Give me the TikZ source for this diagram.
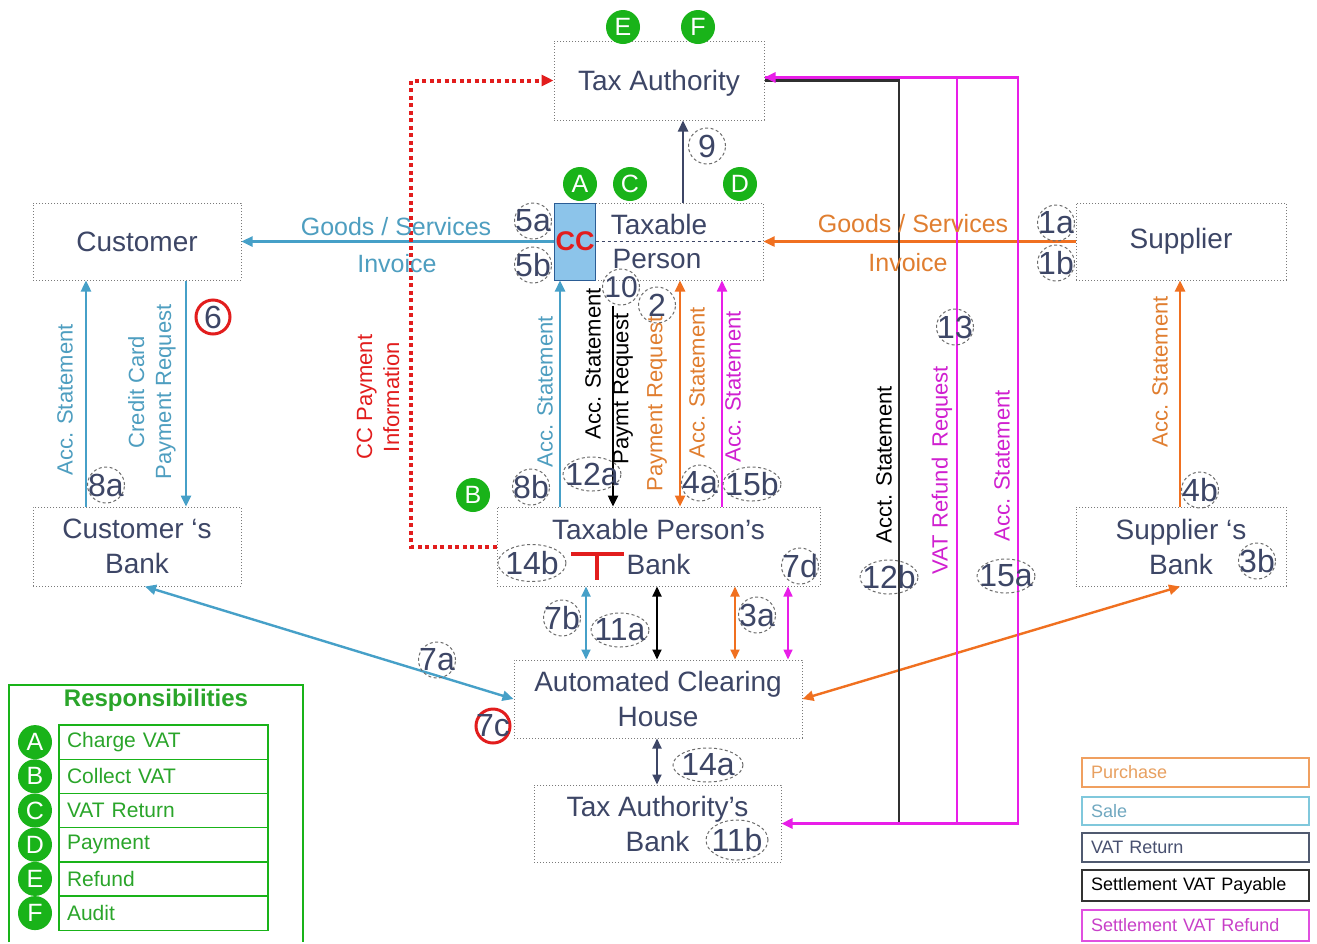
\documentclass[tikz,border=0pt]{standalone}
\usepackage{fontspec}
\setmainfont{Liberation Sans}
\usetikzlibrary{arrows.meta,shapes.geometric}
\definecolor{navy}{HTML}{3D4666}
\definecolor{skyc}{HTML}{46A0C8}
\definecolor{skytext}{HTML}{4E9EC0}
\definecolor{orc}{HTML}{F07020}
\definecolor{ortext}{HTML}{E07E30}
\definecolor{magc}{HTML}{E81EE8}
\definecolor{magtext}{HTML}{D020D0}
\definecolor{myred}{HTML}{E21D1D}
\definecolor{greenc}{HTML}{19B319}
\definecolor{greentext}{HTML}{2AA52A}
\definecolor{ccfill}{HTML}{8CC4EA}
\definecolor{ccdraw}{HTML}{2B5D95}
\definecolor{boxgray}{HTML}{7A7A7A}
\definecolor{blackline}{HTML}{303030}
\definecolor{purdraw}{HTML}{F0A060}
\definecolor{purtext}{HTML}{E8A060}
\definecolor{saledraw}{HTML}{80C8DC}
\definecolor{saletext}{HTML}{70A8C0}
\definecolor{vatdraw}{HTML}{505A70}
\definecolor{vattext}{HTML}{485070}
\definecolor{paydraw}{HTML}{333333}
\definecolor{refdraw}{HTML}{E050E0}
\definecolor{reftext}{HTML}{C840C8}
\begin{document}
\begin{tikzpicture}[x=1pt,y=-1pt,
  box/.style={draw=boxgray, dotted, line width=1pt, inner sep=0pt, align=center, text=navy, font=\fontsize{28}{35}\selectfont},
  txt/.style={inner sep=0pt, text=navy, font=\fontsize{28}{35}\selectfont},
  lab/.style={inner sep=0pt, align=center, rotate=90, font=\fontsize{22}{27}\selectfont},
  hlab/.style={inner sep=0pt, font=\fontsize{25}{25}\selectfont},
  num/.style={ellipse, draw=gray!85!black, dash pattern=on 3pt off 2.5pt, line width=1pt, inner sep=-16pt, minimum width=37pt, minimum height=36pt, text=navy, font=\fontsize{32}{32}\selectfont},
  numw/.style={num, minimum width=58pt, minimum height=34pt},
  redring/.style={circle, draw=myred, line width=3pt, inner sep=-16pt, minimum size=34pt, text=navy, font=\fontsize{32}{32}\selectfont},
  gc/.style={circle, fill=greenc, inner sep=0pt, minimum size=34pt, text=white, font=\fontsize{25}{25}\selectfont},
  arr/.style={line width=2.4pt, -{Triangle[length=11pt,width=10pt]}},
  darr/.style={line width=2.4pt, {Triangle[length=11pt,width=10pt]}-{Triangle[length=11pt,width=10pt]}},
  darrs/.style={line width=2pt, {Triangle[length=10pt,width=9pt]}-{Triangle[length=10pt,width=9pt]}},
  rowbox/.style={draw=greenc, line width=1.4pt, minimum height=34.2pt, text width=193pt, inner xsep=8pt, inner ysep=0pt, align=left, text=greentext, font=\fontsize{21}{21}\selectfont},
  legbox/.style={line width=1.5pt, minimum height=29pt, text width=209pt, inner xsep=9pt, inner ysep=0pt, align=left, font=\fontsize{18}{18}\selectfont}
]
\useasboundingbox (0,0) rectangle (1317,943);
\fill[white] (0,0) rectangle (1317,943);

% column coordinates
\foreach \c in {86,145,186,411,560,586,613,657,680,683,722,735,788,899,957,1018,1180}
  \coordinate (x\c) at (\c,0);

% boxes
\node[box, minimum width=210pt, minimum height=79pt] (ta) at (659,80.5) {};
\node[txt] (tatext) at (659,83) {Tax Authority};
\node[box, minimum width=168pt, minimum height=77pt] (tp) at (679,241.5) {};
\node[draw=ccdraw, fill=ccfill, line width=1pt, minimum width=41pt, minimum height=77pt, inner sep=0pt] (cc) at (574.5,241.5) {};
\node[box, minimum width=208pt, minimum height=77pt] (cust) at (137,241.5) {Customer};
\node[box, minimum width=210pt, minimum height=77pt] (sup) at (1181,241.5) {Supplier};
\node[box, minimum width=208pt, minimum height=79pt] (cb) at (137,546.5) {Customer ‘s\\Bank};
\node[box, minimum width=323pt, minimum height=79pt] (tpb) at (658.5,546.5) {Taxable Person’s\\Bank};
\node[box, minimum width=210pt, minimum height=79pt] (sb) at (1181,546.5) {Supplier ‘s\\Bank};
\node[box, minimum width=288pt, minimum height=78pt] (ach) at (658,699) {Automated Clearing\\House};
\node[box, minimum width=247pt, minimum height=77pt] (tab) at (657.5,823.5) {Tax Authority’s\\Bank};

\draw[navy, dashed, line width=1pt] (cc.east) -- (tp.east);
\node[txt] (tptop) at (659,224) {Taxable};
\node[txt] (tpbot) at (657,259) {Person};
\node[inner sep=0pt, text=myred, font=\fontsize{27}{27}\selectfont\bfseries] (cctext) at (575,241) {CC};

% red T mark
\draw[myred, line width=4.5pt] (571,554) -- (624,554);
\draw[myred, line width=4.5pt] (597,554) -- (597,580);

% number label 10 needed before black arrow
\node[num, font=\fontsize{30}{30}\selectfont] (n10) at (621,287) {10};

% connectors
\draw[arr, skyc] (cc.west) -- (cust.east);
\draw[arr, orc] (sup.west) -- (tp.east);
\draw[arr, navy] (x683 |- tp.north) -- (x683 |- ta.south);
\draw[arr, skyc] (x86 |- cb.north) -- (x86 |- cust.south);
\draw[arr, skyc] (x186 |- cust.south) -- (x186 |- cb.north);
\draw[arr, skyc] (x560 |- tpb.north) -- (x560 |- cc.south);
\draw[arr, black] (x613 |- n10.south) -- (x613 |- tpb.north);
\draw[darr, orc] (x680 |- tp.south) -- (x680 |- tpb.north);
\draw[arr, magc, line width=1.8pt] (x722 |- tpb.north) -- (x722 |- tp.south);
\draw[arr, orc] (x1180 |- sb.north) -- (x1180 |- sup.south);
\draw[darrs, skyc] (x586 |- tpb.south) -- (x586 |- ach.north);
\draw[darrs, black] (x657 |- tpb.south) -- (x657 |- ach.north);
\draw[darrs, orc] (x735 |- tpb.south) -- (x735 |- ach.north);
\draw[darrs, magc, line width=1.6pt] (x788 |- tpb.south) -- (x788 |- ach.north);
\draw[darrs, navy] (x657 |- ach.south) -- (x657 |- tab.north);
\draw[darr, skyc] (x145 |- cb.south) -- (ach.west);
\draw[darr, orc] (x1180 |- sb.south) -- (ach.east);
\draw[myred, line width=4pt, dash pattern=on 4pt off 3.5pt, -{Triangle[length=12pt,width=11pt]}]
  (tpb.west) -- (tpb.west -| x411) -- (x411 |- ta.west) -- (ta.west);
\coordinate (taE) at ([yshift=3pt]ta.east);
\draw[line width=2.2pt, blackline] (ta.east) -- (ta.east -| x899) -- (x899 |- tab.east);
\draw[arr, magc, line width=2.6pt] (x957 |- tab.east) -- (x957 |- taE) -- (taE);
\draw[arr, magc, line width=2.6pt] (taE) -- (taE -| x1018) -- (x1018 |- tab.east) -- (tab.east);

% horizontal labels
\node[hlab, text=skytext] (gs1) at (396,227) {Goods / Services};
\node[hlab, text=skytext] (inv1) at (397,264) {Invoice};
\node[hlab, text=ortext] (gs2) at (913,224) {Goods / Services};
\node[hlab, text=ortext] (inv2) at (908,263) {Invoice};

% rotated labels
\node[lab, text=skytext] (l1) at (65,400) {Acc. Statement};
\node[lab, text=skytext] (l2) at (152,392) {Credit Card\\Payment Request};
\node[lab, text=myred] (l3) at (378,397) {CC Payment\\Information};
\node[lab, text=skytext] (l4) at (545,392) {Acc. Statement};
\node[lab, text=black] (l5) at (593,364) {Acc. Statement};
\node[lab, text=black] (l6) at (623,389) {Paymt Request};
\node[lab, text=ortext] (l7) at (657,404) {Payment Request};
\node[lab, text=ortext] (l8) at (697,383) {Acc. Statement};
\node[lab, text=magtext] (l9) at (733,387) {Acc. Statement};
\node[lab, text=ortext] (l10) at (1160,372) {Acc. Statement};
\node[lab, text=black] (l11) at (884,465) {Acct. Statement};
\node[lab, text=magtext] (l12) at (942,470) {VAT Refund\, Request};
\node[lab, text=magtext] (l13) at (1002,466) {Acc. Statement};

% number labels
\node[num] (n9) at (707,146) {9};
\node[num] (n5a) at (533,221) {5a};
\node[num] (n5b) at (533,265) {5b};
\node[num] (n1a) at (1056,223) {1a};
\node[num] (n1b) at (1056,263) {1b};
\node[redring] (n6) at (213,317) {6};
\node[num] (n2) at (657,305) {2};
\node[num] (n13) at (955,327) {13};
\node[num] (n8a) at (106,485) {8a};
\node[num] (n8b) at (531,487) {8b};
\node[numw] (n12a) at (592,474) {12a};
\node[num] (n4a) at (700,483) {4a};
\node[numw] (n15b) at (752,484) {15b};
\node[num] (n4b) at (1200,490) {4b};
\node[numw, minimum width=68pt, minimum height=37pt] (n14b) at (532,563) {14b};
\node[num] (n7d) at (800,566) {7d};
\node[numw] (n12b) at (889,577) {12b};
\node[numw] (n15a) at (1006,576) {15a};
\node[num] (n3b) at (1257,561) {3b};
\node[num] (n7b) at (562,618) {7b};
\node[numw] (n11a) at (620,630) {11a};
\node[num] (n3a) at (757,615) {3a};
\node[num] (n7a) at (437,660) {7a};
\node[redring] (n7c) at (493,726) {7c};
\node[numw, minimum width=70pt] (n14a) at (708,765) {14a};
\node[numw, minimum width=62pt, minimum height=40pt] (n11b) at (737,840) {11b};

% green responsibility markers
\node[gc] (gE) at (623,27) {E};
\node[gc] (gF) at (698,27) {F};
\node[gc] (gA) at (580,184) {A};
\node[gc] (gC) at (630,184) {C};
\node[gc] (gD) at (740,184) {D};
\node[gc] (gB) at (473,495) {B};

% left legend
\draw[greenc, line width=1.4pt] (9,942) -- (9,685) -- (303,685) -- (303,942);
\node[inner sep=0pt, text=greentext, font=\fontsize{24}{24}\selectfont\bfseries] (resp) at (156,700) {Responsibilities};
\node[rowbox] (r1) at (163.5,742.1) {Charge VAT};
\node[rowbox] (r2) at (163.5,776.3) {Collect VAT};
\node[rowbox] (r3) at (163.5,810.5) {VAT Return};
\node[rowbox] (r4) at (163.5,844.7) {Payment};
\node[rowbox] (r5) at (163.5,878.9) {Refund};
\node[rowbox] (r6) at (163.5,913.1) {Audit};
\node[gc] (lA) at (35,742.1) {A};
\node[gc] (lB) at (35,776.3) {B};
\node[gc] (lC) at (35,810.5) {C};
\node[gc] (lD) at (35,844.7) {D};
\node[gc] (lE) at (35,878.9) {E};
\node[gc] (lF) at (35,913.1) {F};

% right legend
\node[legbox, draw=purdraw, text=purtext] (kp) at (1195.5,772.5) {Purchase};
\node[legbox, draw=saledraw, text=saletext, minimum height=28pt] (ks) at (1195.5,811) {Sale};
\node[legbox, draw=vatdraw, text=vattext] (kv) at (1195.5,847.5) {VAT Return};
\node[legbox, draw=paydraw, text=black, minimum height=31pt] (kpay) at (1195.5,885.5) {Settlement VAT Payable};
\node[legbox, draw=refdraw, text=reftext, minimum height=31pt] (kref) at (1195.5,925.5) {Settlement VAT Refund};
\end{tikzpicture}
\end{document}
